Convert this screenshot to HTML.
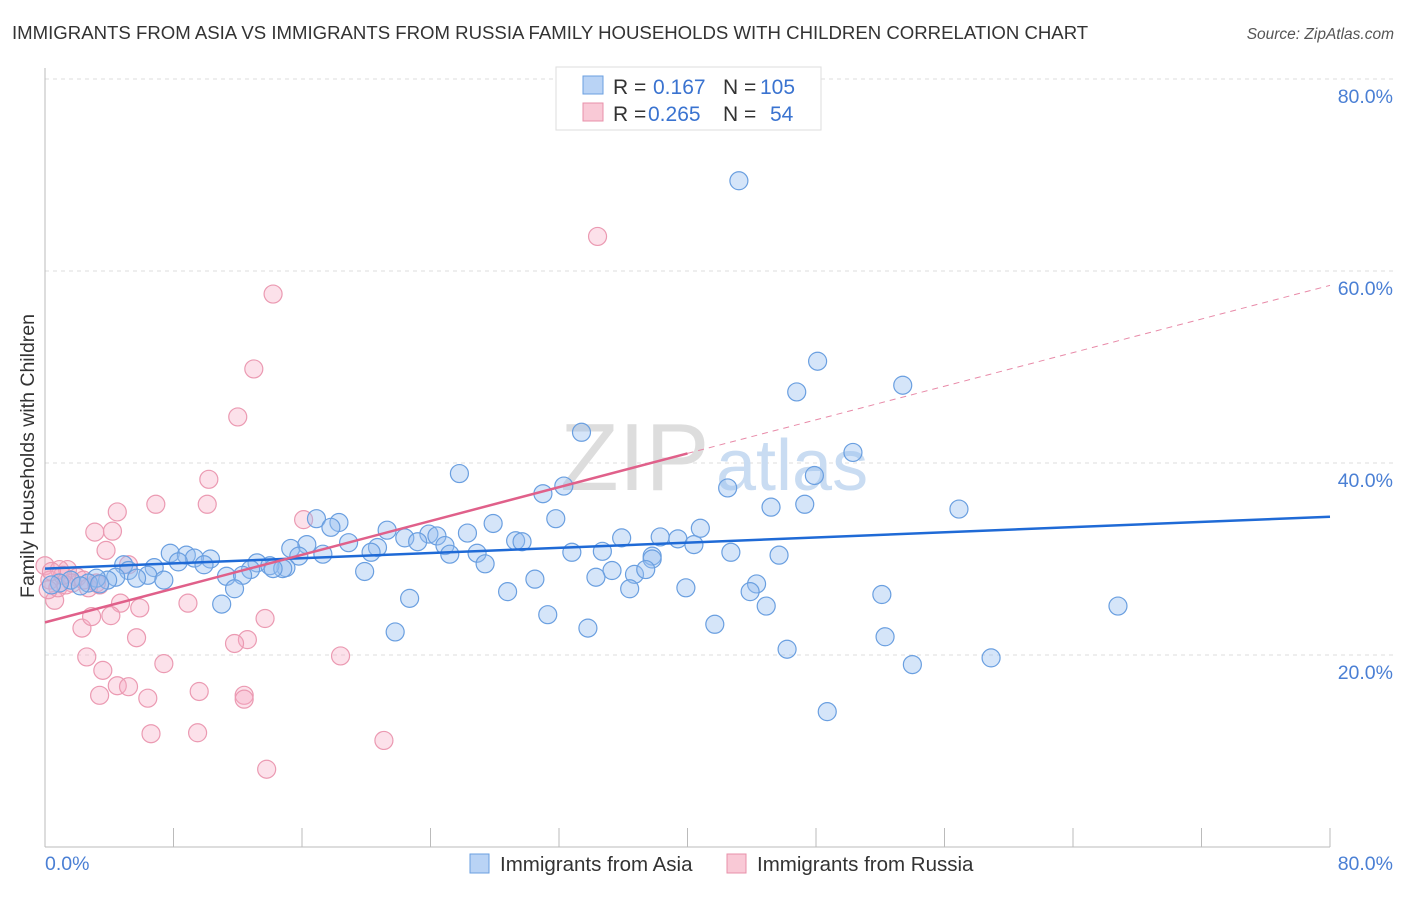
<!DOCTYPE html>
<html><head><meta charset="utf-8"><style>
body{margin:0;background:#fff;font-family:"Liberation Sans",sans-serif}
svg text{font-family:"Liberation Sans",sans-serif}
</style></head><body>
<svg width="1406" height="892" viewBox="0 0 1406 892">
<text x="12" y="39" font-size="18.6" fill="#333">IMMIGRANTS FROM ASIA VS IMMIGRANTS FROM RUSSIA FAMILY HOUSEHOLDS WITH CHILDREN CORRELATION CHART</text>
<text x="1394" y="39" font-size="15.5" fill="#555" text-anchor="end" font-style="italic">Source: ZipAtlas.com</text>
<g id="grid"></g>
<text x="560" y="490" font-size="96" fill="#ddd" font-family="Liberation Serif">ZIP</text>
<text x="716" y="490" font-size="72" fill="#c9dcf2">atlas</text>
<g id="marks"></g>
<text x="34" y="456" font-size="19.5" fill="#333" text-anchor="middle" transform="rotate(-90 34 456)">Family Households with Children</text>
<text x="45" y="870" font-size="19.5" fill="#4a7fd4">0.0%</text>
<text x="1393" y="870" font-size="19.5" fill="#4a7fd4" text-anchor="end">80.0%</text>
<g>
<rect x="556" y="67" width="265" height="63" fill="#fff" stroke="#ddd"/>
<rect x="583" y="76" width="20" height="18" fill="#b9d3f5" stroke="#6a9fe0"/>
<rect x="583" y="103" width="20" height="18" fill="#f9c9d6" stroke="#e890aa"/>
<text x="613" y="94" font-size="21" fill="#333">R = </text><text x="653" y="94" font-size="21" fill="#3a73d0">0.167</text>
<text x="723" y="94" font-size="21" fill="#333">N = </text><text x="760" y="94" font-size="21" fill="#3a73d0">105</text>
<text x="613" y="121" font-size="21" fill="#333">R = </text><text x="648" y="121" font-size="21" fill="#3a73d0">0.265</text>
<text x="723" y="121" font-size="21" fill="#333">N = </text><text x="770" y="121" font-size="21" fill="#3a73d0">54</text>
</g>
<g>
<rect x="470" y="854" width="19" height="19" fill="#b9d3f5" stroke="#6a9fe0"/>
<text x="500" y="871" font-size="20.5" fill="#333">Immigrants from Asia</text>
<rect x="727" y="854" width="19" height="19" fill="#f9c9d6" stroke="#e890aa"/>
<text x="757" y="871" font-size="20.5" fill="#333">Immigrants from Russia</text>
</g>
</svg>
<script>
const yTicks=[20,40,60,80];
const yTickLabels=["20.0%","40.0%","60.0%","80.0%"];
const xTicks=[0,8,16,24,32,40,48,56,64,72,80];
const asiaX=[43.2,48.1,46.8,53.4,50.3,33.4,25.8,47.9,42.5,32.3,31.0,56.9,45.2,47.3,31.8,16.9,18.3,27.9,40.8,21.3,26.3,17.8,23.9,24.4,22.4,35.9,38.3,39.4,29.3,29.7,18.9,20.7,16.3,23.2,24.9,40.4,15.3,7.8,8.8,10.3,25.2,32.8,34.7,42.7,37.8,20.3,17.3,15.8,26.9,9.3,6.8,8.3,9.9,15.0,13.2,14.0,45.7,27.4,37.8,4.9,5.2,14.8,12.8,11.3,14.2,6.4,35.3,36.7,19.9,34.3,30.5,37.4,4.4,3.9,5.7,7.4,3.2,2.7,12.3,44.3,43.9,39.9,36.4,28.8,22.7,52.1,44.9,11.0,11.8,66.8,31.3,41.7,21.8,33.8,52.3,46.2,54.0,58.9,48.7,1.6,0.9,2.2,0.4,3.4];
const asiaY=[69.4,50.6,47.4,48.1,41.1,43.2,38.9,38.7,37.4,37.6,36.8,35.2,35.4,35.7,34.2,34.2,33.8,33.7,33.2,33.0,32.7,33.3,32.6,32.4,32.2,32.2,32.3,32.1,31.9,31.8,31.7,31.2,31.5,31.8,31.4,31.5,31.1,30.6,30.4,30.0,30.5,30.7,30.8,30.7,30.3,30.7,30.5,30.3,30.6,30.1,29.1,29.7,29.4,29.1,29.6,29.3,30.4,29.5,30.0,29.4,28.8,29.0,28.9,28.2,29.0,28.3,28.8,28.4,28.7,28.1,27.9,28.9,28.1,27.8,28.0,27.8,28.0,27.5,28.3,27.4,26.6,27.0,26.9,26.6,25.9,26.3,25.1,25.3,26.9,25.1,24.2,23.2,22.4,22.8,21.9,20.6,19.0,19.7,14.1,27.8,27.5,27.2,27.3,27.4];
const russiaX=[34.4,14.2,13.0,12.0,10.2,6.9,4.5,10.1,16.1,3.1,4.2,3.8,5.2,1.4,0.0,0.9,2.0,3.4,0.6,4.7,5.9,8.9,2.3,2.9,4.1,13.7,5.7,12.6,11.8,18.4,2.6,7.4,3.6,4.5,5.2,3.4,6.4,9.6,12.4,12.4,6.6,9.5,21.1,13.8,0.3,0.8,1.7,2.7,1.3,0.2,1.1,3.2,2.4,0.4];
const russiaY=[63.6,57.6,49.8,44.8,38.3,35.7,34.9,35.7,34.1,32.8,32.9,30.9,29.4,28.9,29.3,28.9,28.1,27.3,25.7,25.4,24.9,25.4,22.8,24.0,24.1,23.8,21.8,21.6,21.2,19.9,19.8,19.1,18.4,16.8,16.7,15.8,15.5,16.2,15.8,15.4,11.8,11.9,11.1,8.1,27.8,27.0,27.5,27.0,27.3,26.8,28.3,27.5,27.8,28.7];
const asiaTrendX=[0,80];
const asiaTrendY=[29.0,34.4];
const russiaTrendX=[0,40,80];
const russiaTrendY=[23.4,41.0,58.5];

const NS="http://www.w3.org/2000/svg";
const sx=v=>45+v*(1285/80);
const sy=v=>847-v*9.6;
function mk(tag,attrs,parent){const e=document.createElementNS(NS,tag);for(const k in attrs)e.setAttribute(k,attrs[k]);parent.appendChild(e);return e;}
const grid=document.getElementById('grid');
const marks=document.getElementById('marks');
yTicks.forEach((t,i)=>{
  const l=mk('line',{x1:45,x2:1393,y1:sy(t),y2:sy(t),stroke:'#ddd','stroke-dasharray':'4,4'},grid);
  
  
  const tx=mk('text',{x:1393,y:sy(t)+24,'font-size':19.5,fill:'#4a7fd4','text-anchor':'end'},grid);
  tx.textContent=yTickLabels[i];
  
  
});
const ax=mk('line',{x1:45,x2:45,y1:68,y2:847,stroke:'#bbb'},grid);


const bx=mk('line',{x1:45,x2:1330,y1:847,y2:847,stroke:'#bbb'},grid);


xTicks.forEach(t=>{
  const l=mk('line',{x1:sx(t),x2:sx(t),y1:828,y2:847,stroke:'#bbb'},grid);
  
  
});
russiaX.forEach((v,i)=>{
  const c=mk('circle',{cx:sx(v),cy:sy(russiaY[i]),r:9,fill:'rgba(245,170,195,0.35)',stroke:'#eb9ab2','stroke-width':1.2},marks);
  
  
});
asiaX.forEach((v,i)=>{
  const c=mk('circle',{cx:sx(v),cy:sy(asiaY[i]),r:9,fill:'rgba(150,190,240,0.4)',stroke:'#6a9fe0','stroke-width':1.2},marks);
  
  
});
const bt=mk('line',{x1:sx(asiaTrendX[0]),y1:sy(asiaTrendY[0]),x2:sx(asiaTrendX[1]),y2:sy(asiaTrendY[1]),stroke:'#1f6ad6','stroke-width':2.5},marks);


const pt=mk('line',{x1:sx(russiaTrendX[0]),y1:sy(russiaTrendY[0]),x2:sx(russiaTrendX[1]),y2:sy(russiaTrendY[1]),stroke:'#e0608a','stroke-width':2.5},marks);


const pd=mk('line',{x1:sx(russiaTrendX[1]),y1:sy(russiaTrendY[1]),x2:sx(russiaTrendX[2]),y2:sy(russiaTrendY[2]),stroke:'#e88aa8','stroke-width':1,'stroke-dasharray':'6,5'},marks);


</script>
</body></html>
